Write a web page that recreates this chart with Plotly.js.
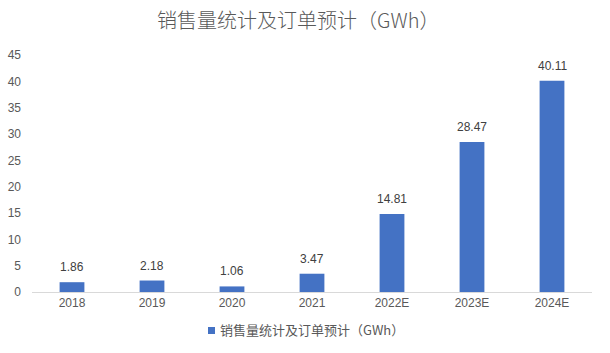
<!DOCTYPE html>
<html><head><meta charset="utf-8">
<script src="https://cdn.plot.ly/plotly-3.0.1.min.js"></script>
<style>html,body{margin:0;padding:0;background:#fff}#c{width:610px;height:353px}</style>
</head><body><div id="c"></div>
<script>
const categories = ['2018','2019','2020','2021','2022E','2023E','2024E'];
const values = [1.86, 2.18, 1.06, 3.47, 14.81, 28.47, 40.11];
const seriesName = '销售量统计及订单预计（GWh）';
const titleText = '销售量统计及订单预计（GWh）';
const yTicks = [0,5,10,15,20,25,30,35,40,45];

const fam = 'Liberation Sans, Noto Sans CJK SC, sans-serif';
const cjk = 'Noto Sans CJK SC, sans-serif';
const barColor = '#4472C4';
const labelAnns = categories.map((c, i) => ({
  x: i, y: values[i], xref: 'x', yref: 'y', text: values[i].toFixed(2),
  showarrow: false, yanchor: 'bottom', xanchor: 'center', yshift: 6,
  font: {size: 12, color: '#404040', family: fam}
}));
Plotly.newPlot('c', [{
  type: 'bar', x: categories, y: values, name: seriesName,
  marker: {color: barColor}, showlegend: false, hoverinfo: 'skip'
}], {
  width: 610, height: 353,
  margin: {l: 32, r: 18, t: 55, b: 61},
  paper_bgcolor: '#fff', plot_bgcolor: '#fff',
  font: {family: fam, color: '#595959', size: 12},
  title: {text: titleText, x: 0.489, xanchor: 'center', y: 0.9405, yanchor: 'middle',
          font: {size: 20, color: '#595959', family: cjk, weight: 300}},
  bargap: 0.69,
  showlegend: false,
  xaxis: {type: 'category', categoryorder: 'array', categoryarray: categories,
          range: [-0.5, categories.length - 0.5],
          showline: true, linecolor: '#d9d9d9', linewidth: 1,
          ticks: '', showgrid: false, tickfont: {size: 12, color: '#595959'}},
  yaxis: {range: [0, 45], tickvals: yTicks, showgrid: false, zeroline: false,
          showline: false, ticks: '', ticklabelstandoff: 10,
          tickfont: {size: 12, color: '#595959'}},
  shapes: [{type: 'rect', xref: 'paper', yref: 'paper',
            x0: 0.3143, x1: 0.3268, y0: -0.1772, y1: -0.1477,
            fillcolor: barColor, line: {width: 0}}],
  annotations: labelAnns.concat([{text: seriesName, xref: 'paper', yref: 'paper', x: 0.3321, y: -0.1603,
                 xanchor: 'left', yanchor: 'middle', showarrow: false,
                 font: {size: 13, color: '#595959', family: cjk}}])
}, {displayModeBar: false, staticPlot: true});
</script></body></html>
